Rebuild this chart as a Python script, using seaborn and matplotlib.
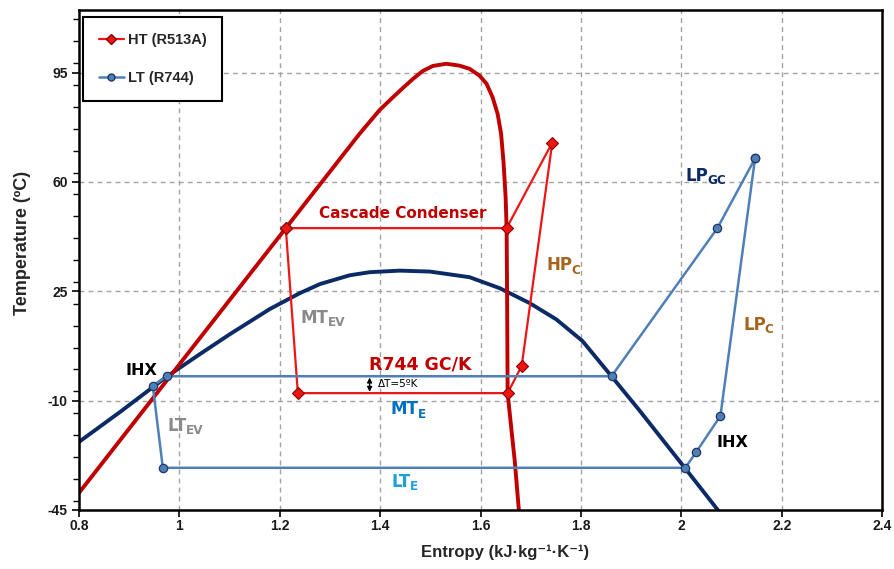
import matplotlib
matplotlib.use("Agg")
import matplotlib.pyplot as plt
from matplotlib import font_manager
from matplotlib.lines import Line2D
from matplotlib.ticker import MultipleLocator, FixedLocator
import seaborn as sns
import pandas as pd

# --- saturation domes (entropy kJ/kg·K, temperature °C) ---
r513a_dome_s = [0.800, 1.212, 1.359, 1.379, 1.399, 1.425, 1.445, 1.465,
                1.485, 1.505, 1.532, 1.558, 1.578, 1.598, 1.612, 1.624,
                1.634, 1.641, 1.646, 1.650, 1.652, 1.653, 1.654, 1.661,
                1.668, 1.676, 1.678]
r513a_dome_t = [-39.5, 45.2, 75.4, 79.2, 83.0, 87.0, 90.0, 92.9,
                95.5, 97.1, 97.8, 97.2, 96.2, 94.0, 91.4, 87.1,
                81.8, 75.4, 65.9, 55.1, 45.2, 22.2, -7.6, -18.4,
                -29.0, -44.3, -48.1]

r744_dome_s = [0.800, 0.882, 0.975, 1.041, 1.101, 1.180, 1.240, 1.280,
               1.339, 1.379, 1.439, 1.499, 1.578, 1.638, 1.698, 1.751,
               1.803, 1.861, 1.916, 2.006, 2.085]
r744_dome_t = [-23.2, -13.6, -2.3, 4.9, 11.3, 19.3, 24.4, 27.3,
               30.1, 31.1, 31.6, 31.3, 29.5, 26.0, 21.2, 16.0,
               9.1, -2.2, -13.0, -31.3, -47.5]

# --- HT cycle (R513A) ---
ht_s = [1.212, 1.236, 1.654, 1.682, 1.743, 1.652, 1.212]
ht_t = [45.2, -7.6, -7.6, 1.1, 72.6, 45.2, 45.2]

# --- LT cycle (R744) ---
lt_s = [2.147, 2.072, 1.861, 0.975, 0.947, 0.967, 2.008, 2.030, 2.078, 2.147]
lt_t = [67.5, 45.2, -2.2, -2.2, -5.3, -31.5, -31.5, -26.4, -14.9, 67.5]

x_ticks = [0.8, 1.0, 1.2, 1.4, 1.6, 1.8, 2.0, 2.2, 2.4]
x_tick_labels = ["0.8", "1", "1.2", "1.4", "1.6", "1.8", "2", "2.2", "2.4"]
y_ticks = [-45, -10, 25, 60, 95]

RED_DOME = "#C00000"
HT_RED = "#EE1515"
NAVY = "#0B2A66"
LT_BLUE = "#4F7FB8"
BROWN = "#A5651F"
GREY = "#8A8A8A"

sns.set_theme(style="white")
available = {f.name for f in font_manager.fontManager.ttflist}
narrow = "Liberation Sans Narrow" if "Liberation Sans Narrow" in available else "Liberation Sans"
plt.rcParams["font.family"] = ["DejaVu Sans"]
plt.rcParams["axes.unicode_minus"] = False

fig = plt.figure(figsize=(8.95, 5.69), dpi=100)
ax = fig.add_axes([0.0883, 0.1037, 0.8972, 0.8787])

# dashed grid
for xv in x_ticks[1:-1]:
    ax.axvline(xv, color="#A3A3A3", lw=1.0, ls=(0, (3.5, 3)), zorder=0)
for yv in y_ticks[1:]:
    ax.axhline(yv, color="#A3A3A3", lw=1.0, ls=(0, (3.5, 3)), zorder=0)

dome_a = pd.DataFrame({"s": r513a_dome_s, "T": r513a_dome_t})
dome_b = pd.DataFrame({"s": r744_dome_s, "T": r744_dome_t})
sns.lineplot(data=dome_b, x="s", y="T", sort=False, estimator=None,
             color=NAVY, lw=2.8, ax=ax, zorder=2)
sns.lineplot(data=dome_a, x="s", y="T", sort=False, estimator=None,
             color=RED_DOME, lw=2.8, ax=ax, zorder=2)

ht = pd.DataFrame({"s": ht_s, "T": ht_t})
lt = pd.DataFrame({"s": lt_s, "T": lt_t})
sns.lineplot(data=ht, x="s", y="T", sort=False, estimator=None,
             color=HT_RED, lw=1.6, marker="D", markersize=6,
             markerfacecolor=HT_RED, markeredgecolor="#8B0000",
             markeredgewidth=0.8, ax=ax, zorder=3)
sns.lineplot(data=lt, x="s", y="T", sort=False, estimator=None,
             color=LT_BLUE, lw=1.8, marker="o", markersize=6,
             markerfacecolor=LT_BLUE, markeredgecolor="#1F3864",
             markeredgewidth=0.9, ax=ax, zorder=4)

ax.set_xlim(0.8, 2.4)
ax.set_ylim(-45, 115)
ax.xaxis.set_major_locator(FixedLocator(x_ticks))
ax.set_xticklabels(x_tick_labels)
ax.yaxis.set_major_locator(FixedLocator(y_ticks))
ax.yaxis.set_minor_locator(MultipleLocator(7))
ax.tick_params(axis="x", which="major", direction="out", length=5,
               width=1.2, color="black", labelsize=10, pad=1.5, bottom=True)
ax.tick_params(axis="y", which="major", direction="out", length=5,
               width=1.2, color="black", labelsize=10, pad=3, left=True)
ax.tick_params(axis="y", which="minor", direction="out", length=4,
               width=1.0, color="black", left=True)
for lab in ax.get_xticklabels() + ax.get_yticklabels():
    lab.set_fontfamily(narrow)
    lab.set_fontweight("bold")
    lab.set_color("#1A1A1A")
for sp in ax.spines.values():
    sp.set_color("black")
    sp.set_linewidth(1.8)

ax.set_xlabel("Entropy (kJ·kg⁻¹·K⁻¹)", family=[narrow, "DejaVu Sans"],
              fontweight="bold", fontsize=12)
ax.set_ylabel("Temperature (ºC)", family=[narrow, "DejaVu Sans"],
              fontweight="bold", fontsize=13)
ax.xaxis.set_label_coords(0.53, -0.07)
ax.yaxis.set_label_coords(-0.06, 0.534)


def label(x, y, text, color, size=11.5, ha="center"):
    ax.text(x, y, text, color=color, fontsize=size, fontweight="bold",
            ha=ha, va="center", zorder=6)


def sub_label(x, y, main, sub, color, size=12):
    """Bold label with a smaller subscript placed after it."""
    t = ax.text(x, y, main, color=color, fontsize=size, fontweight="bold",
                ha="left", va="center", zorder=6)
    fig.canvas.draw()
    bb = t.get_window_extent()
    ax.annotate(sub, xy=(bb.x1, bb.y0), xycoords="figure pixels",
                xytext=(-0.8, -1.6), textcoords="offset points",
                fontsize=size * 0.72, fontweight="bold", color=color,
                ha="left", va="bottom", zorder=6)


label(1.445, 50.0, "Cascade Condenser", RED_DOME, 11)
label(1.479, 1.6, "R744 GC/K", RED_DOME, 12.5)
label(0.925, -0.2, "IHX", "black", 11.5)
label(2.101, -23.5, "IHX", "black", 11.5)

sub_label(1.731, 33.3, "HP", "C", BROWN)
sub_label(1.242, 16.4, "MT", "EV", GREY)
sub_label(1.421, -12.8, "MT", "E", "#0070C0")
sub_label(0.977, -18.2, "LT", "EV", GREY)
sub_label(1.423, -36.0, "LT", "E", "#1AA0DC")
sub_label(2.008, 62.0, "LP", "GC", NAVY)
sub_label(2.123, 14.2, "LP", "C", BROWN)

ax.annotate("", xy=(1.379, -2.6), xytext=(1.379, -7.2),
            arrowprops=dict(arrowstyle="<|-|>", color="black", lw=1.0,
                            mutation_scale=7, shrinkA=0, shrinkB=0), zorder=6)
ax.text(1.395, -4.7, "ΔT=5ºK", fontsize=7.5, color="black", ha="left",
        va="center", zorder=6)

handles = [
    Line2D([0], [0], color=HT_RED, lw=1.6, marker="D", markersize=5,
           markerfacecolor=HT_RED, markeredgecolor="#8B0000"),
    Line2D([0], [0], color=LT_BLUE, lw=1.8, marker="o", markersize=5,
           markerfacecolor=LT_BLUE, markeredgecolor="#1F3864"),
]
leg = ax.legend(handles, ["HT (R513A)", "LT (R744)"], loc="upper left",
                bbox_to_anchor=(0.005, 0.986), borderaxespad=0,
                frameon=True, fancybox=False, edgecolor="black",
                framealpha=1, borderpad=1.1, labelspacing=1.65,
                handlelength=1.7, handletextpad=0.25,
                prop={"family": narrow, "weight": "bold", "size": 10.5})
leg.get_frame().set_linewidth(1.5)
leg.set_zorder(10)

fig.savefig("out.png", dpi=100)
